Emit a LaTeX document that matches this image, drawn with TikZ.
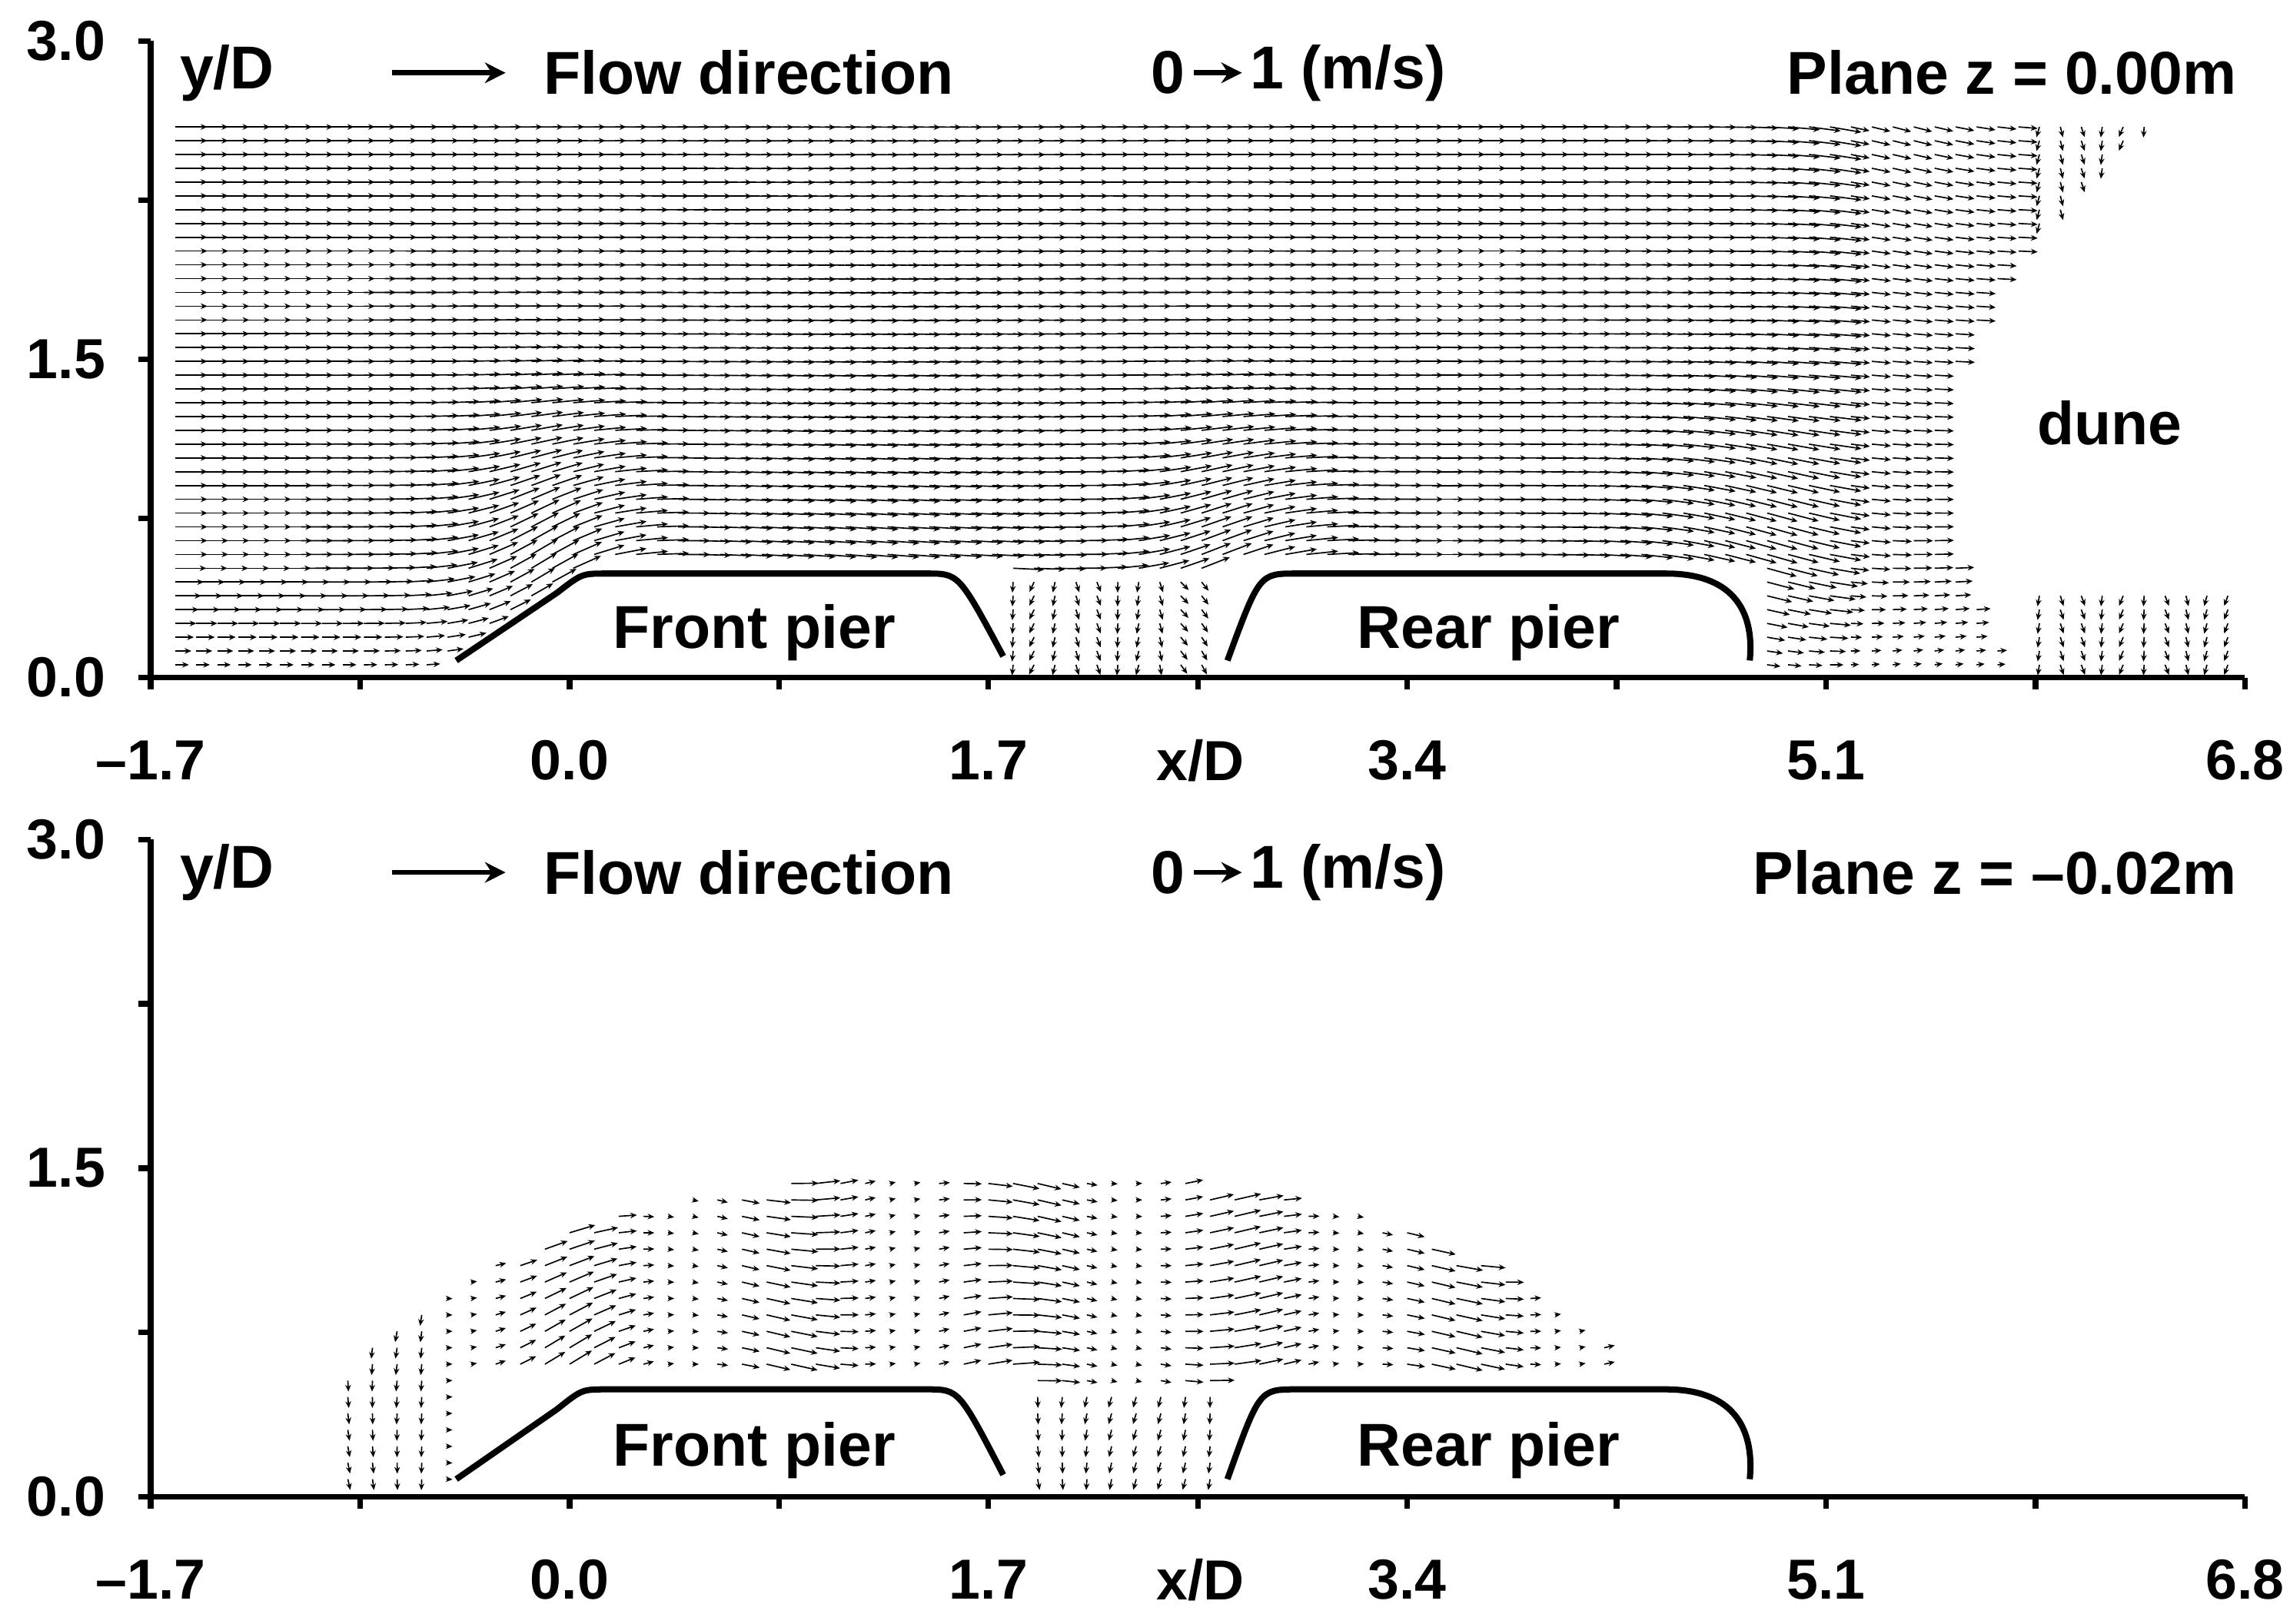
\documentclass[tikz,border=0pt]{standalone}
\usepackage{fontspec}
\setmainfont{Liberation Sans}
\usetikzlibrary{arrows.meta}

\tikzset{
  axis/.style={line width=1.1pt},
  pier/.style={line width=1.2pt},
  vec/.style={line width=0.25pt,-{Stealth[length=1.3pt,width=1.1pt]}},
  lab/.style={font=\fontsize{11}{13}\selectfont\bfseries,inner sep=0pt},
  head/.style={font=\fontsize{11.8}{14}\selectfont\bfseries,inner sep=0pt},
}
\newcommand\panelaxes[2]{%
  \draw[axis] (-1.7,3) -- (-1.7,0) -- (6.8,0);
  \foreach \t in {0,0.75,...,3.0} \draw[axis] (-1.7,\t) -- ++(-0.05,0);
  \foreach \t in {-1.7,-0.85,...,6.8} \draw[axis] (\t,0) -- ++(0,-0.055);
  \foreach \t/\s [count=\i] in {0/0.0,1.5/1.5,3/3.0}
    \node[lab,anchor=east] (yl#1\i) at (-1.88,\t) {\s};
  \foreach \t/\s [count=\i] in {-1.7/–1.7,0/0.0,1.7/1.7,3.4/3.4,5.1/5.1,6.8/6.8}
    \node[lab] (xl#1\i) at (\t,-#2) {\s};
  \node[lab] (xd#1) at (2.56,-#2) {x/D};
  \node[head] (yd#1) at (-1.39,2.85) {y/D};
  \node[head,anchor=west] (fd#1) at (-0.11,2.85) {Flow direction};
  \coordinate (fa#1) at (-0.72,2.85);
  \coordinate (fb#1) at (-0.26,2.85);
  \draw[line width=1pt,-{Stealth[length=4pt,width=4pt]}] (fa#1) -- (fb#1);
  \node[head] (z#1) at (2.43,2.85) {0};
  \node[head,anchor=west] (o#1) at (2.76,2.85) {1 (m/s)};
  \draw[line width=1pt,-{Stealth[length=4pt,width=4pt]}] ([xshift=1.5pt]z#1.east) -- ([xshift=-1.5pt]o#1.west);
  \draw[pier] (-0.46,0.08) -- (-0.05,0.4) .. controls (0.05,0.49) .. (0.15,0.49)
    -- (1.45,0.49) .. controls (1.58,0.49) .. (1.76,0.1);
  \draw[pier] (2.67,0.08) .. controls (2.8,0.49) .. (2.95,0.49)
    -- (4.45,0.49) .. controls (4.8,0.49) and (4.8,0.2) .. (4.79,0.08);
  \node[head] (fp#1) at (0.75,0.21) {Front pier};
  \node[head] (rp#1) at (3.73,0.21) {Rear pier};
}

\begin{document}
\begin{tikzpicture}
  \useasboundingbox (0,0) rectangle (15.68,11.12);

  % plane z = 0.00m
  \begin{scope}[shift={(3.90,6.48)},x=1.687cm,y=1.453cm]
  \foreach \x in {-1.6,-1.515,...,6.75} {
    \foreach \y in {0.06,0.125,...,2.66} {
      \pgfmathtruncatemacro\keep{((\y<0.55 && \x<1.8 && \y<0.12+0.8*(\x+0.46)) || (\y<0.55 && \x>2.62 && \x<4.85)
        || (\x>5.55+0.35*(\y-1)*(\y-1) && !(\x>5.95 && \y<0.45))) ? 0 : 1}
      \ifnum\keep=1
        \pgfmathsetmacro\ang{35*exp(-(\x+0.15)*(\x+0.15)/0.12)*exp(-(\y-0.5)*(\y-0.5)/0.4)
          -10*exp(-(\x-1.2)*(\x-1.2)/0.6)*exp(-\y)
          +25*exp(-(\x-2.6)*(\x-2.6)/0.12)*exp(-(\y-0.5)*(\y-0.5)/0.4)
          -20*exp(-(\x-4.9)*(\x-4.9)/0.3)*exp(-(\y-0.6)*(\y-0.6)/0.5)
          -12*exp(-(\x-5.4)*(\x-5.4)/0.2)*(\y-1.2)
          +ifthenelse((\y<0.5 && \x>1.78 && \x<2.65) || \x>5.9, -90+20*sin(900*\x), 0)}
        \pgfmathsetmacro\len{ifthenelse((\y<0.5 && \x>1.78 && \x<2.65) || \x>5.9, 0.05,
          0.13*min(1,0.35+1.2*\y)*ifthenelse(\x>5.2,0.6,1))}
        \draw[vec] (\x,\y) -- ++(\ang:\len);
      \fi
    }
  }
  \panelaxes{a}{0.39}
  \node[head,anchor=east] (pa) at (6.77,2.85) {Plane z = 0.00m};
  \node[head] (dune) at (6.25,1.2) {dune};
  \end{scope}

  % plane z = -0.02m
  \begin{scope}[shift={(3.90,0.87)},x=1.687cm,y=1.50cm]
  \foreach \x in {-0.9,-0.8,...,4.4} {
    \foreach \y in {0.08,0.155,...,1.5} {
      \pgfmathtruncatemacro\keep{((\x-1.7)*(\x-1.7)/7.3+(\y-0.2)*(\y-0.2)/1.69 > 1)
        || (\y<0.55 && \x>-0.5 && \x<1.8) || (\y<0.55 && \x>2.62 && \x<4.85) ? 0 : 1}
      \ifnum\keep=1
        \pgfmathsetmacro\ang{15*sin(260*\x+90*\y)
          +30*exp(-(\x+0.2)*(\x+0.2)/0.15)*exp(-(\y-0.5)*(\y-0.5)/0.3)
          +ifthenelse(\x<-0.55 || (\y<0.5 && \x>1.78 && \x<2.65), -90, 0)}
        \pgfmathsetmacro\len{ifthenelse(\x<-0.55 || (\y<0.5 && \x>1.78 && \x<2.65), 0.05,
          0.11*(0.6+0.4*cos(400*\x)))}
        \draw[vec] (\x,\y) -- ++(\ang:\len);
      \fi
    }
  }
  \panelaxes{b}{0.38}
  \node[head,anchor=east] (pb) at (6.77,2.85) {Plane z = –0.02m};
  \end{scope}
\end{tikzpicture}
\end{document}
